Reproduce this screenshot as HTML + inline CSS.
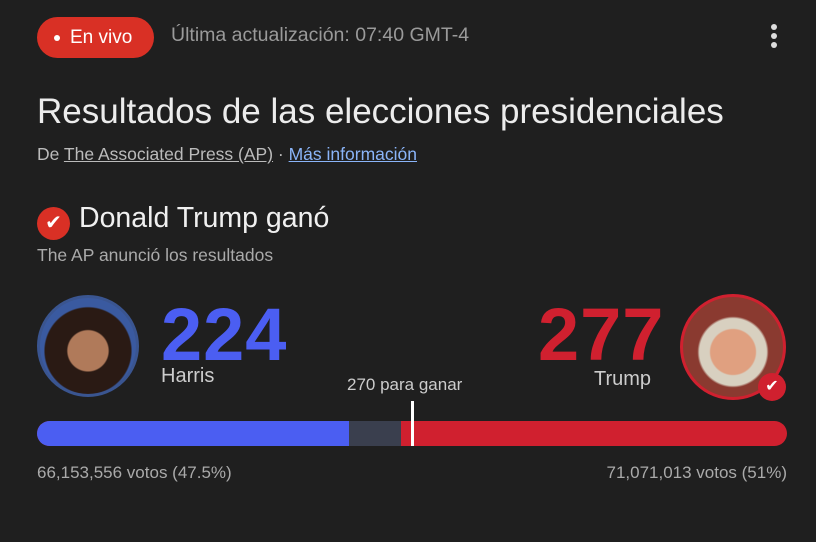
<!DOCTYPE html>
<html><head><meta charset="utf-8"><style>
body{margin:0;width:816px;height:542px;background:#1f1f1f;overflow:hidden;font-family:"Liberation Sans",sans-serif;position:relative}
.a{position:absolute;white-space:nowrap}
</style></head><body>
<div class="a" style="left:37px;top:17px;width:117px;height:41px;border-radius:21px;background:#d93025"></div>
<div class="a" style="left:54px;top:35px;width:6px;height:6px;border-radius:3px;background:#fff"></div>
<div class="a" style="left:70px;top:27px;font-size:19px;color:#fff">En vivo</div>
<div class="a" style="left:171px;top:24px;font-size:19.5px;color:#9a9a9a">Última actualización: 07:40 GMT-4</div>
<div class="a" style="left:771px;top:24px;width:6px;height:6px;border-radius:3px;background:#ddd;box-shadow:0 9px 0 #ddd,0 18px 0 #ddd"></div>
<div class="a" style="left:37px;top:92px;font-size:35px;color:#ececec">Resultados de las elecciones presidenciales</div>
<div class="a" style="left:37px;top:144px;font-size:17.5px;color:#bbb">De <u>The Associated Press (AP)</u> · <u style="color:#8ab4f8">Más información</u></div>
<div class="a" style="left:37px;top:207px;width:33px;height:33px;border-radius:50%;background:#d93025;color:#fff;font-size:20px;text-align:center;line-height:33px">✔</div>
<div class="a" style="left:79px;top:202px;font-size:28.5px;color:#f0f0f0">Donald Trump ganó</div>
<div class="a" style="left:37px;top:245px;font-size:17.5px;color:#aaa">The AP anunció los resultados</div>
<div class="a" style="left:37px;top:295px;width:96px;height:96px;border-radius:50%;background:radial-gradient(circle at 50% 55%,#b07a5a 0 28%,#2a1a14 30% 60%,#3a5aa0 62%);border:3px solid #3a5590"></div>
<div class="a" style="left:680px;top:294px;width:100px;height:100px;border-radius:50%;background:radial-gradient(circle at 50% 55%,#e0a080 0 30%,#d8d0c0 32% 45%,#8a3a30 48%);border:3px solid #d0202f"></div>
<div class="a" style="left:758px;top:373px;width:28px;height:28px;border-radius:50%;background:#d0202f;color:#fff;font-size:16px;text-align:center;line-height:28px">✔</div>
<div class="a" style="left:161px;top:292px;font-size:74px;font-weight:bold;color:#4b5ef2;letter-spacing:1px">224</div>
<div class="a" style="left:161px;top:365px;font-size:20px;color:#ccc">Harris</div>
<div class="a" style="left:538px;top:292px;font-size:74px;font-weight:bold;color:#d0202f;letter-spacing:1px">277</div>
<div class="a" style="left:594px;top:368px;font-size:20px;color:#ccc">Trump</div>
<div class="a" style="left:347px;top:375px;font-size:17px;color:#ccc">270 para ganar</div>
<div class="a" style="left:37px;top:421px;width:750px;height:25px;border-radius:13px;background:#d0202f;overflow:hidden">
<div class="a" style="left:0;top:0;width:312px;height:25px;background:#4b5ef2"></div>
<div class="a" style="left:312px;top:0;width:52px;height:25px;background:#3a3f4e"></div>
</div>
<div class="a" style="left:411px;top:401px;width:3px;height:45px;background:#fff"></div>
<div class="a" style="left:37px;top:463px;font-size:17px;color:#aaa">66,153,556 votos (47.5%)</div>
<div class="a" style="right:29px;top:463px;font-size:17px;color:#aaa">71,071,013 votos (51%)</div>
</body></html>
